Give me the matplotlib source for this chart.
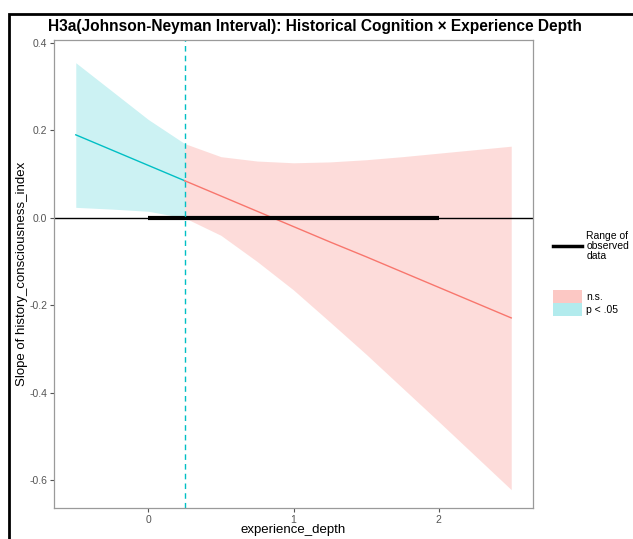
import matplotlib.pyplot as plt
from matplotlib.patches import Rectangle
from matplotlib.lines import Line2D
from matplotlib.patches import Patch

plt.rcParams['font.family'] = ['Liberation Sans', 'DejaVu Sans']

# values
mod_x = [-0.5, -0.25, 0.0, 0.25, 0.5, 0.75, 1.0, 1.25, 1.5, 1.75, 2.0, 2.25, 2.5]
slope = [0.19, 0.155, 0.12, 0.085, 0.05, 0.015, -0.02, -0.055, -0.089, -0.124, -0.159, -0.194, -0.229]
ci_upper = [0.355, 0.29, 0.225, 0.17, 0.14, 0.13, 0.126, 0.128, 0.133, 0.140, 0.148, 0.156, 0.164]
ci_lower = [0.024, 0.02, 0.015, 0.0, -0.04, -0.10, -0.165, -0.238, -0.312, -0.389, -0.466, -0.544, -0.622]
jn_point = 0.25
obs_range = [0.0, 2.0]

teal = '#00BFC4'
red = '#F8766D'

fig = plt.figure(figsize=(6.33, 5.39), dpi=100)
ax = fig.add_axes([54 / 633, 1 - 508 / 539, (533 - 54) / 633, (508 - 40) / 539])

sig = [i for i, v in enumerate(mod_x) if v <= jn_point]
ns = [i for i, v in enumerate(mod_x) if v >= jn_point]

ax.fill_between([mod_x[i] for i in sig], [ci_lower[i] for i in sig], [ci_upper[i] for i in sig],
                color=teal, alpha=0.2, linewidth=0)
ax.fill_between([mod_x[i] for i in ns], [ci_lower[i] for i in ns], [ci_upper[i] for i in ns],
                color=red, alpha=0.25, linewidth=0)
ax.plot([mod_x[i] for i in sig], [slope[i] for i in sig], color=teal, lw=1)
ax.plot([mod_x[i] for i in ns], [slope[i] for i in ns], color=red, lw=1)

ax.axhline(0, color='black', lw=1)
ax.plot(obs_range, [0, 0], color='black', lw=3, solid_capstyle='butt')
ax.axvline(jn_point, color=teal, lw=1, linestyle=(0, (4, 3)))

ax.set_xlim(-0.65, 2.65)
ax.set_ylim(-0.664, 0.407)
ax.set_xticks([0, 1, 2])
ax.set_yticks([-0.6, -0.4, -0.2, 0.0, 0.2, 0.4])
ax.set_yticklabels(['-0.6', '-0.4', '-0.2', '0.0', '0.2', '0.4'])
ax.tick_params(colors='#555555', labelsize=7.5, length=3, width=0.8, pad=2)
for s in ax.spines.values():
    s.set_color('#9a9a9a')
    s.set_linewidth(0.9)

ax.set_xlabel('experience_depth', fontsize=9.5, va='top')
ax.xaxis.set_label_coords(0.5, -(524 - 508) / 468)
ax.set_ylabel('Slope of history_consciousness_index', fontsize=9.5)
ax.yaxis.set_label_coords(-(54 - 28) / 479, 0.5)
fig.text(315 / 633, 1 - 26 / 539,
         'H3a(Johnson-Neyman Interval): Historical Cognition \u00d7 Experience Depth',
         ha='center', va='center', fontsize=11.2, fontweight='bold')

# legend pieces
fig.legend(handles=[Line2D([0], [0], color='black', lw=2.5)],
           labels=['Range of\nobserved\ndata'],
           loc='center left', bbox_to_anchor=(549 / 633, 1 - 246 / 539),
           frameon=False, handlelength=2.8, handletextpad=0.4, borderaxespad=0,
           prop={'size': 7.5})
for t in fig.legends[0].get_texts():
    t.set_linespacing(1.0)
fig.legend(handles=[Patch(color=red, alpha=0.4, lw=0), Patch(color=teal, alpha=0.3, lw=0)],
           labels=['n.s.', 'p < .05'],
           loc='center left', bbox_to_anchor=(549 / 633, 1 - 303 / 539),
           frameon=False, fontsize=7.5, handlelength=2.8, handleheight=1.5,
           handletextpad=0.4, labelspacing=0.05, borderaxespad=0)

# outer black frame of the screenshot
fig.patches.append(Rectangle((9 / 633, -0.05), 1.1, 1 - 14 / 539 + 0.05,
                             transform=fig.transFigure, fill=False,
                             edgecolor='black', lw=2))

fig.savefig('out.png', dpi=100)
